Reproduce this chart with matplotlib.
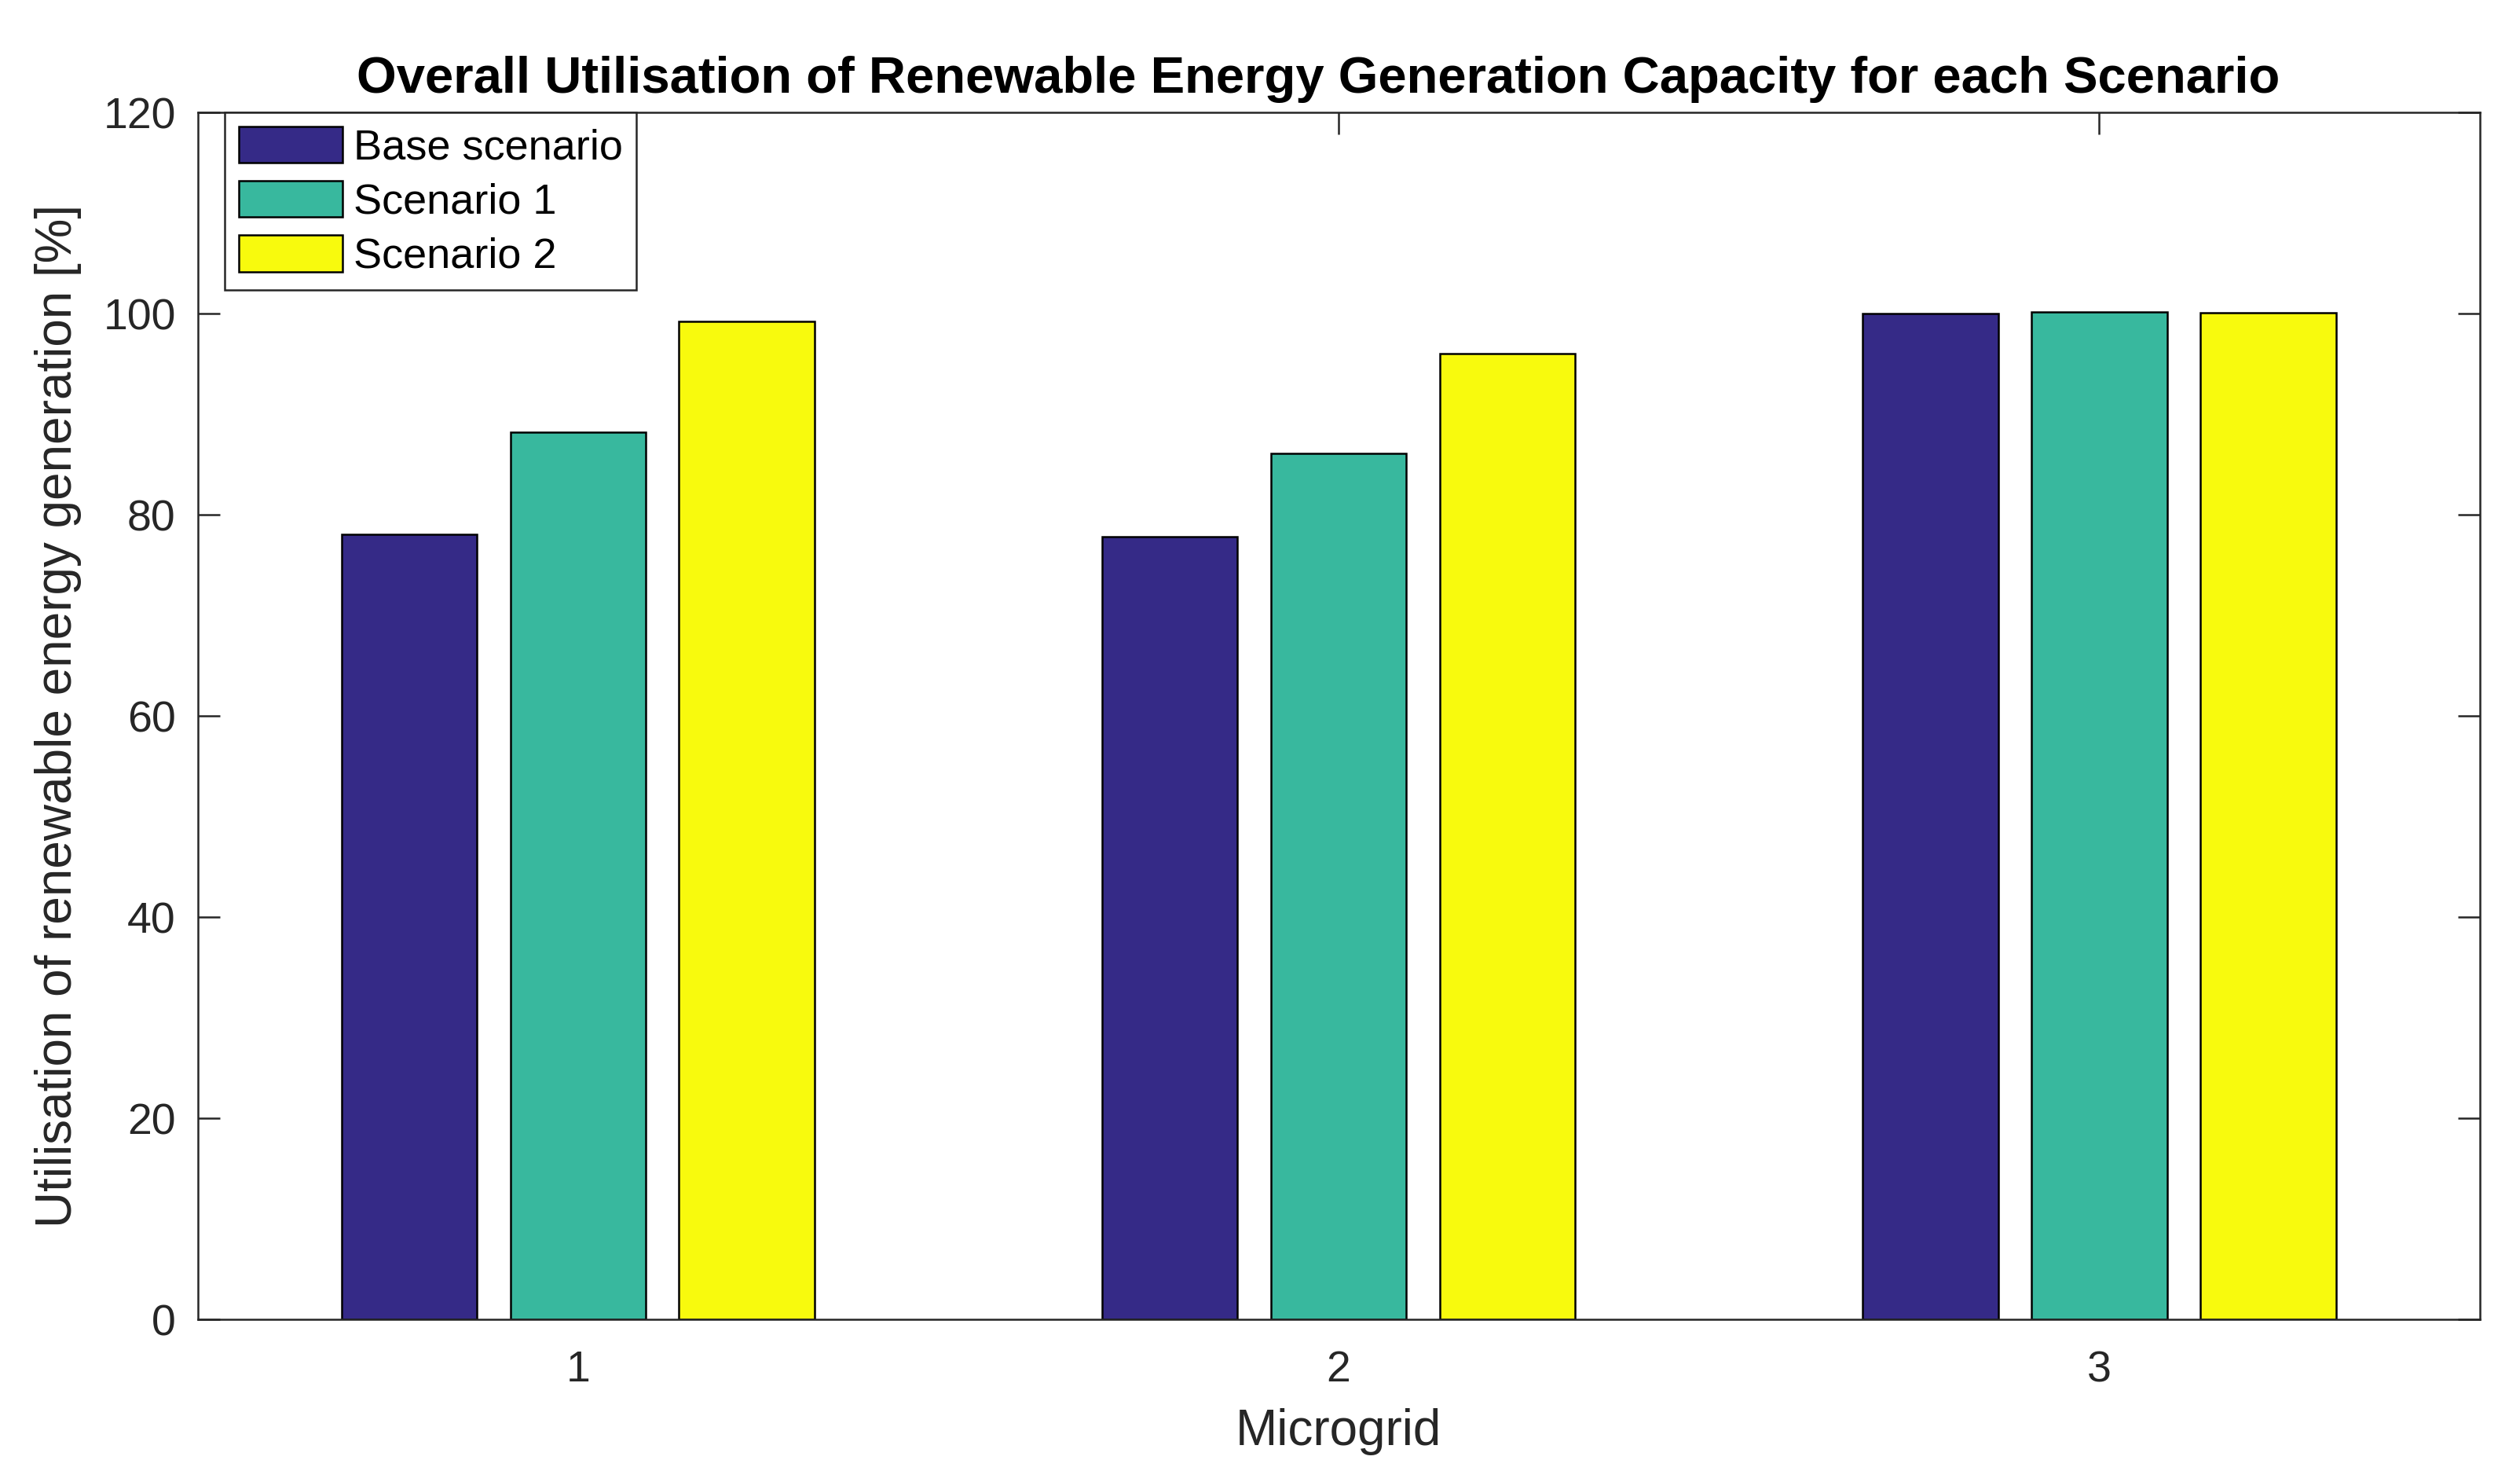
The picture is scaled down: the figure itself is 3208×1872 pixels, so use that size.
import numpy as np
import matplotlib.pyplot as plt

plt.rcParams['font.family'] = ['Liberation Sans', 'DejaVu Sans']

# Dados
microgrids = [1, 2, 3]
series_names = ["Base scenario", "Scenario 1", "Scenario 2"]
base = [78.1, 77.8, 100.0]
cen1 = [88.2, 86.1, 100.15]
cen2 = [99.2, 96.0, 100.1]
cores = ["#352a87", "#38b89e", "#f8fa0d"]

valores = [base, cen1, cen2]
x = np.array(microgrids, dtype=float)
largura = 0.178
deslocamentos = [-0.222, 0.0, 0.222]

fig = plt.figure(figsize=(16.04, 9.36), dpi=200)
ax = fig.add_axes([0.0784, 0.103, 0.9056, 0.8205])

for vals, nome, cor, d in zip(valores, series_names, cores, deslocamentos):
    ax.bar(x + d, vals, width=largura, color=cor, edgecolor="black",
           linewidth=0.9, label=nome, zorder=2)

cinza = "#262626"
ax.set_xlim(0.5, 3.5)
ax.set_ylim(0, 120)
ax.set_xticks(microgrids)
ax.set_yticks(range(0, 121, 20))
ax.tick_params(direction="in", length=10, width=0.9, colors=cinza,
               labelsize=20, top=True, right=True, pad=10)
ax.tick_params(axis="x", pad=14)
for s in ax.spines.values():
    s.set_color(cinza)
    s.set_linewidth(0.9)
    s.set_zorder(3)

ax.set_xlabel("Microgrid", fontsize=23, color=cinza, labelpad=8)
ax.set_ylabel("Utilisation of renewable energy generation [%]", fontsize=23,
              color=cinza, labelpad=10)
ax.set_title("Overall Utilisation of Renewable Energy Generation Capacity for each Scenario",
             fontsize=23.5, fontweight="bold", color="black", pad=9, x=0.491)

leg = ax.legend(loc="upper left", bbox_to_anchor=(0.012, 1.0), borderaxespad=0,
                fontsize=19.5, fancybox=False, framealpha=1, edgecolor=cinza,
                handlelength=2.45, handleheight=0.95, borderpad=0.32,
                labelspacing=0.3, handletextpad=0.25)
leg.get_frame().set_linewidth(0.9)

plt.savefig("out.png", dpi=200)
